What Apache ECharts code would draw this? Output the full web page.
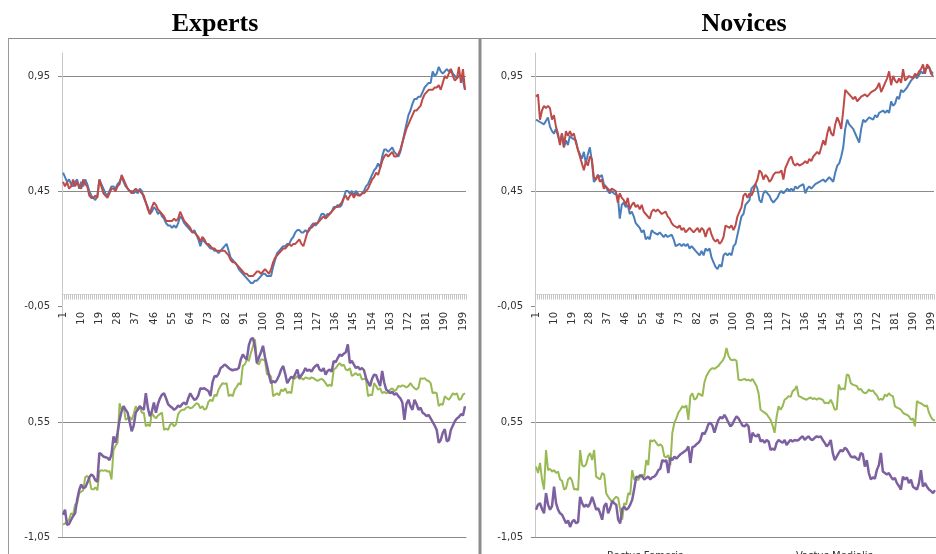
<!DOCTYPE html>
<html>
<head>
<meta charset="utf-8">
<script src="https://cdn.jsdelivr.net/npm/echarts@6/dist/echarts.min.js"></script>
<style>
  html, body { margin: 0; padding: 0; background: #ffffff; }
  #chart { width: 936px; height: 554px; }
</style>
</head>
<body>
<div id="chart"></div>
<script>
// Sample index labels 1..200
const categories = Array.from({ length: 200 }, (_, i) => String(i + 1));

// Experts, upper panel
const expertsRectusFemoris = [
  0.53,0.51,0.49,0.50,0.48,0.47,0.49,0.50,0.46,0.49,
  0.47,0.50,0.48,0.45,0.43,0.42,0.41,0.43,0.50,0.48,
  0.46,0.44,0.43,0.45,0.47,0.47,0.46,0.48,0.49,0.51,
  0.49,0.47,0.46,0.45,0.45,0.44,0.45,0.44,0.46,0.45,
  0.42,0.40,0.38,0.35,0.36,0.38,0.37,0.35,0.36,0.34,
  0.33,0.31,0.30,0.30,0.29,0.30,0.29,0.31,0.34,0.33,
  0.31,0.30,0.29,0.28,0.27,0.28,0.26,0.24,0.21,0.24,
  0.23,0.22,0.21,0.20,0.20,0.19,0.19,0.18,0.19,0.20,
  0.21,0.22,0.19,0.16,0.15,0.14,0.13,0.11,0.10,0.09,
  0.08,0.07,0.06,0.05,0.05,0.06,0.06,0.07,0.08,0.09,
  0.09,0.08,0.08,0.08,0.12,0.15,0.18,0.19,0.20,0.21,
  0.21,0.22,0.22,0.24,0.25,0.27,0.28,0.28,0.27,0.27,
  0.28,0.27,0.28,0.30,0.31,0.30,0.31,0.33,0.35,0.35,
  0.34,0.35,0.35,0.36,0.38,0.38,0.39,0.38,0.39,0.42,
  0.45,0.45,0.44,0.45,0.43,0.45,0.44,0.43,0.44,0.45,
  0.47,0.48,0.50,0.52,0.54,0.55,0.57,0.55,0.60,0.63,
  0.63,0.62,0.63,0.64,0.62,0.61,0.60,0.62,0.66,0.70,
  0.74,0.78,0.80,0.83,0.85,0.85,0.86,0.86,0.88,0.90,
  0.91,0.92,0.92,0.97,0.95,0.96,0.99,0.97,0.96,0.97,
  0.98,0.97,0.98,0.96,0.95,0.94,0.95,0.95,0.93,0.89
];
const expertsVastusMedialis = [
  0.49,0.47,0.49,0.46,0.47,0.50,0.47,0.49,0.47,0.46,
  0.50,0.48,0.47,0.43,0.42,0.42,0.43,0.42,0.50,0.47,
  0.44,0.43,0.42,0.44,0.46,0.46,0.45,0.47,0.48,0.52,
  0.50,0.48,0.46,0.45,0.44,0.45,0.46,0.45,0.45,0.44,
  0.43,0.40,0.37,0.35,0.38,0.40,0.39,0.37,0.36,0.35,
  0.34,0.32,0.32,0.32,0.32,0.33,0.32,0.33,0.36,0.34,
  0.32,0.31,0.30,0.29,0.27,0.27,0.26,0.25,0.23,0.25,
  0.24,0.22,0.22,0.21,0.20,0.20,0.19,0.19,0.19,0.19,
  0.19,0.18,0.17,0.15,0.14,0.14,0.13,0.12,0.11,0.10,
  0.09,0.09,0.08,0.08,0.08,0.09,0.10,0.10,0.09,0.10,
  0.11,0.10,0.09,0.11,0.14,0.16,0.17,0.18,0.19,0.20,
  0.20,0.21,0.22,0.21,0.22,0.22,0.23,0.24,0.22,0.21,
  0.24,0.27,0.29,0.29,0.30,0.31,0.31,0.32,0.33,0.34,
  0.33,0.34,0.35,0.36,0.37,0.38,0.38,0.39,0.40,0.42,
  0.43,0.41,0.43,0.44,0.42,0.44,0.43,0.43,0.44,0.44,
  0.45,0.46,0.48,0.50,0.51,0.53,0.52,0.55,0.58,0.60,
  0.61,0.60,0.61,0.62,0.60,0.60,0.61,0.63,0.66,0.69,
  0.72,0.74,0.76,0.78,0.80,0.80,0.81,0.82,0.85,0.87,
  0.88,0.89,0.89,0.89,0.90,0.90,0.91,0.89,0.92,0.95,
  0.94,0.96,0.98,0.95,0.93,0.94,0.99,0.92,0.98,0.89
];

// Novices, upper panel
const novicesRectusFemoris = [
  0.76,0.76,0.75,0.75,0.74,0.74,0.77,0.73,0.71,0.70,
  0.72,0.69,0.66,0.70,0.64,0.67,0.65,0.69,0.68,0.68,
  0.67,0.63,0.61,0.59,0.62,0.57,0.61,0.64,0.58,0.49,
  0.50,0.52,0.51,0.52,0.48,0.47,0.45,0.44,0.45,0.44,
  0.44,0.43,0.33,0.39,0.40,0.38,0.39,0.35,0.36,0.34,
  0.31,0.30,0.29,0.27,0.28,0.24,0.25,0.24,0.28,0.27,
  0.27,0.26,0.27,0.26,0.25,0.26,0.25,0.25,0.26,0.24,
  0.21,0.21,0.22,0.21,0.22,0.21,0.22,0.20,0.21,0.20,
  0.19,0.18,0.17,0.19,0.17,0.20,0.19,0.20,0.16,0.14,
  0.12,0.11,0.13,0.12,0.17,0.18,0.17,0.18,0.17,0.21,
  0.22,0.22,0.30,0.34,0.35,0.39,0.40,0.41,0.46,0.47,
  0.48,0.46,0.41,0.40,0.44,0.45,0.44,0.43,0.41,0.40,
  0.41,0.42,0.44,0.45,0.44,0.45,0.46,0.45,0.46,0.45,
  0.47,0.46,0.47,0.47,0.48,0.44,0.46,0.47,0.46,0.47,
  0.48,0.48,0.49,0.49,0.50,0.49,0.50,0.51,0.50,0.49,
  0.53,0.56,0.57,0.60,0.64,0.72,0.76,0.74,0.73,0.72,
  0.70,0.70,0.66,0.72,0.76,0.75,0.76,0.77,0.77,0.76,
  0.78,0.77,0.79,0.79,0.80,0.79,0.80,0.79,0.84,0.82,
  0.83,0.86,0.85,0.89,0.88,0.89,0.90,0.90,0.93,0.94,
  0.95,0.94,0.94,0.97,0.96,0.98,0.98,0.99,0.97,0.96
];
const novicesVastusMedialis = [
  0.86,0.87,0.76,0.80,0.82,0.81,0.82,0.81,0.76,0.78,
  0.73,0.70,0.65,0.70,0.64,0.71,0.69,0.71,0.69,0.70,
  0.66,0.63,0.60,0.57,0.54,0.58,0.56,0.60,0.59,0.51,
  0.50,0.52,0.49,0.50,0.46,0.47,0.46,0.45,0.46,0.46,
  0.45,0.40,0.44,0.42,0.41,0.39,0.42,0.37,0.39,0.40,
  0.38,0.39,0.37,0.39,0.36,0.35,0.34,0.33,0.36,0.37,
  0.36,0.37,0.36,0.35,0.35,0.36,0.34,0.33,0.31,0.30,
  0.30,0.29,0.30,0.28,0.29,0.27,0.28,0.29,0.28,0.27,
  0.28,0.29,0.27,0.29,0.28,0.25,0.28,0.29,0.26,0.24,
  0.23,0.24,0.22,0.23,0.25,0.30,0.30,0.29,0.30,0.28,
  0.30,0.34,0.36,0.38,0.43,0.44,0.42,0.44,0.43,0.45,
  0.48,0.50,0.54,0.53,0.50,0.52,0.51,0.49,0.50,0.52,
  0.53,0.53,0.53,0.54,0.50,0.55,0.55,0.59,0.60,0.57,
  0.56,0.57,0.56,0.56,0.57,0.58,0.57,0.59,0.58,0.60,
  0.60,0.62,0.61,0.64,0.67,0.65,0.70,0.73,0.70,0.69,
  0.74,0.77,0.75,0.72,0.80,0.89,0.88,0.87,0.86,0.85,
  0.86,0.84,0.85,0.86,0.86,0.87,0.86,0.87,0.88,0.88,
  0.89,0.90,0.92,0.88,0.90,0.92,0.94,0.97,0.91,0.95,
  0.93,0.92,0.94,0.92,0.98,0.93,0.94,0.95,0.95,0.94,
  0.96,0.95,0.97,0.98,1.00,0.96,1.00,0.99,0.96,0.95
];

// Experts, lower panel
const expertsSeries3 = [
  -0.88,-0.86,-0.84,-0.81,-0.72,-0.74,-0.60,-0.58,-0.44,-0.42,
  -0.40,-0.22,-0.20,-0.23,-0.38,-0.39,-0.36,-0.40,-0.14,-0.12,
  -0.13,-0.12,-0.14,-0.13,-0.25,0.16,0.22,0.26,0.81,0.72,
  0.77,0.58,0.60,0.62,0.58,0.66,0.77,0.72,0.76,0.68,
  0.68,0.49,0.52,0.49,0.68,0.63,0.60,0.64,0.66,0.68,
  0.44,0.46,0.44,0.51,0.53,0.49,0.52,0.66,0.70,0.72,
  0.72,0.75,0.76,0.74,0.75,0.78,0.81,0.80,0.74,0.77,
  0.72,0.74,0.83,0.86,0.84,0.93,0.91,1.00,1.05,1.09,
  1.08,1.09,0.91,0.93,0.91,1.00,1.04,1.09,1.07,1.33,
  1.35,1.42,1.40,1.51,1.60,1.70,1.37,1.35,1.42,1.42,
  1.40,1.21,1.22,1.18,0.91,0.93,0.95,0.92,1.00,0.98,
  1.02,0.95,0.97,0.95,1.14,1.16,1.19,1.15,1.16,1.14,
  1.17,1.16,1.15,1.17,1.16,1.14,1.12,1.14,1.15,1.13,
  1.09,1.05,1.07,1.05,1.28,1.30,1.34,1.37,1.33,1.35,
  1.28,1.27,1.30,1.19,1.21,1.23,1.20,1.22,1.14,1.15,
  1.14,0.91,0.93,0.92,1.09,1.05,1.00,1.02,0.95,0.97,
  0.95,0.96,1.00,1.02,0.98,1.00,1.05,1.04,1.06,1.05,
  1.03,1.05,1.09,1.05,1.02,1.00,1.03,1.16,1.15,1.16,
  1.13,1.12,1.09,0.95,0.96,0.95,0.77,0.80,0.79,0.91,
  0.88,0.86,0.90,0.95,0.93,0.95,0.86,0.87,0.93,0.95
];
const expertsSeries4 = [
  -0.74,-0.67,-0.88,-0.87,-0.81,-0.76,-0.72,-0.53,-0.40,-0.32,
  -0.37,-0.36,-0.30,-0.22,-0.18,-0.20,-0.26,-0.28,0.12,0.10,
  0.07,0.06,0.05,0.02,0.10,0.35,0.26,0.40,0.58,0.70,
  0.77,0.72,0.68,0.55,0.42,0.50,0.68,0.72,0.77,0.74,
  0.72,0.95,0.75,0.63,0.70,0.82,0.68,0.80,0.88,0.93,
  0.95,0.88,0.80,0.77,0.75,0.72,0.74,0.78,0.76,0.80,
  0.82,0.79,0.88,0.95,0.90,0.86,0.87,0.92,1.02,1.01,
  1.02,1.00,0.98,0.91,1.10,1.19,1.18,1.22,1.30,1.32,
  1.35,1.33,1.30,1.28,1.27,1.28,1.28,1.30,1.42,1.49,
  1.45,1.42,1.62,1.70,1.72,1.60,1.37,1.45,1.52,1.61,
  1.45,1.33,1.20,1.09,1.12,1.10,1.14,1.20,1.28,1.33,
  1.22,1.09,1.14,1.18,1.16,1.22,1.28,1.16,1.20,1.24,
  1.30,1.26,1.28,1.25,1.30,1.33,1.35,1.28,1.26,1.30,
  1.21,1.26,1.28,1.25,1.40,1.38,1.44,1.49,1.47,1.50,
  1.52,1.63,1.37,1.40,1.35,1.30,1.32,1.28,1.30,1.27,
  1.16,1.10,1.05,1.15,1.21,1.20,1.12,1.05,1.26,1.10,
  1.00,0.98,0.95,0.97,0.93,0.95,0.91,0.88,0.82,0.58,
  0.80,0.86,0.77,0.72,0.86,0.80,0.72,0.75,0.68,0.66,
  0.63,0.65,0.60,0.55,0.50,0.44,0.26,0.30,0.40,0.45,
  0.28,0.30,0.44,0.50,0.56,0.60,0.62,0.66,0.64,0.77
];

// Novices, lower panel
const novicesSeries3 = [
  -0.07,-0.16,-0.02,-0.25,-0.39,0.16,-0.12,-0.10,-0.14,-0.12,
  -0.16,-0.14,-0.25,-0.27,-0.39,-0.37,-0.25,-0.22,-0.27,-0.39,
  -0.38,-0.40,0.16,-0.05,-0.07,-0.04,0.07,0.12,0.02,0.16,
  -0.21,-0.23,-0.25,-0.16,-0.18,-0.44,-0.49,-0.53,-0.56,-0.52,
  -0.49,-0.51,-0.67,-0.81,-0.58,-0.60,-0.44,-0.46,-0.12,-0.25,
  -0.24,-0.26,-0.21,-0.18,-0.21,0.02,-0.05,0.30,0.28,0.30,
  0.26,0.22,0.24,0.21,0.07,0.06,0.09,-0.05,0.40,0.54,
  0.60,0.68,0.72,0.77,0.75,0.78,0.58,0.91,0.95,0.86,
  0.88,0.95,0.93,0.91,1.10,1.19,1.24,1.28,1.30,1.29,
  1.31,1.33,1.37,1.40,1.45,1.58,1.47,1.42,1.41,1.42,
  1.40,1.14,1.13,1.14,1.15,1.13,1.14,1.12,1.15,1.10,
  1.05,0.95,0.72,0.70,0.68,0.66,0.62,0.58,0.50,0.40,
  0.62,0.77,0.72,0.77,0.86,0.88,0.91,0.90,0.98,1.00,
  1.05,0.91,0.90,0.88,0.87,0.86,0.88,0.89,0.87,0.88,
  0.86,0.88,0.87,0.86,0.81,0.82,0.81,0.86,0.80,0.72,
  0.73,1.07,1.00,1.02,1.00,1.21,1.20,1.09,1.07,1.06,
  1.05,1.00,1.01,0.97,0.95,0.96,1.00,0.98,0.99,0.95,
  0.92,0.86,0.87,0.86,0.93,0.91,0.95,0.92,0.91,0.77,
  0.75,0.74,0.72,0.68,0.66,0.65,0.63,0.58,0.60,0.49,
  0.84,0.82,0.81,0.79,0.77,0.78,0.68,0.62,0.58,0.57
];
const novicesSeries4 = [
  -0.67,-0.60,-0.58,-0.66,-0.72,-0.44,-0.60,-0.67,-0.62,-0.35,
  -0.58,-0.67,-0.72,-0.74,-0.80,-0.86,-0.82,-0.91,-0.84,-0.81,
  -0.86,-0.84,-0.49,-0.58,-0.63,-0.60,-0.63,-0.58,-0.49,-0.58,
  -0.67,-0.65,-0.72,-0.81,-0.62,-0.58,-0.72,-0.65,-0.55,-0.58,
  -0.60,-0.81,-0.86,-0.66,-0.63,-0.67,-0.65,-0.60,-0.53,-0.38,
  -0.21,-0.22,-0.19,-0.21,-0.25,-0.23,-0.21,-0.25,-0.22,-0.21,
  -0.18,-0.12,-0.10,0.02,0.00,0.02,-0.16,0.05,0.02,0.07,
  0.04,0.07,0.10,0.12,0.14,0.16,0.21,-0.02,0.20,0.21,
  0.24,0.26,0.30,0.40,0.38,0.44,0.52,0.54,0.50,0.40,
  0.50,0.58,0.62,0.60,0.65,0.60,0.54,0.49,0.52,0.58,
  0.63,0.60,0.55,0.50,0.49,0.52,0.49,0.26,0.40,0.36,
  0.35,0.38,0.28,0.30,0.26,0.30,0.28,0.16,0.18,0.16,
  0.26,0.30,0.28,0.26,0.30,0.23,0.27,0.30,0.28,0.30,
  0.29,0.30,0.33,0.35,0.30,0.33,0.35,0.31,0.30,0.33,
  0.35,0.34,0.35,0.30,0.26,0.21,0.24,0.30,0.12,0.02,
  0.07,0.12,0.16,0.14,0.19,0.17,0.12,0.07,0.06,0.07,
  0.04,0.02,0.12,0.10,-0.07,0.02,-0.16,-0.25,-0.22,-0.24,
  -0.12,-0.05,0.12,-0.14,-0.16,-0.18,-0.16,-0.21,-0.25,-0.23,
  -0.30,-0.34,-0.39,-0.21,-0.25,-0.22,-0.30,-0.25,-0.35,-0.37,
  -0.39,-0.30,-0.12,-0.35,-0.30,-0.35,-0.39,-0.41,-0.44,-0.40
];

const colors = { rf: '#4a7ebb', vm: '#be4b48', s3: '#98b954', s4: '#7d60a0' };
const labelFont = 'DejaVu Sans';
const fmt = v => v.toFixed(2).replace('.', ',');

const panelX = [62, 535];

function grids() {
  const g = [];
  panelX.forEach(x => {
    g.push({ left: x, top: 53, width: 404, height: 253 });
    g.push({ left: x, top: 307, width: 404, height: 230 });
  });
  return g;
}

function xAxes() {
  const a = [];
  [0, 2].forEach(base => {
    a.push({
      type: 'category', gridIndex: base, data: categories, boundaryGap: true,
      axisLine: { onZero: true, lineStyle: { color: '#d4d4d4', width: 1 } },
      axisTick: { show: true, interval: 0, length: 5, lineStyle: { color: '#c4c4c4' } },
      axisLabel: { interval: 8, rotate: 90, margin: 6, fontSize: 10, color: '#333', fontFamily: labelFont }
    });
    a.push({
      type: 'category', gridIndex: base + 1, data: categories, boundaryGap: true,
      axisLine: { onZero: false, lineStyle: { color: '#8a8a8a', width: 1 } },
      axisTick: { show: false }, axisLabel: { show: false }
    });
  });
  return a;
}

function yAxes() {
  const a = [];
  [0, 2].forEach(base => {
    a.push({
      type: 'value', gridIndex: base, min: -0.05, max: 1.05, interval: 0.5,
      axisLine: { show: true, lineStyle: { color: '#c8c8c8' } },
      axisTick: { show: true, length: 4, lineStyle: { color: '#8a8a8a' } },
      axisLabel: { showMaxLabel: false, margin: 12, fontSize: 10, color: '#333', fontFamily: labelFont, formatter: fmt },
      splitLine: { show: true, lineStyle: { color: ['rgba(0,0,0,0)', '#8a8a8a', '#8a8a8a', 'rgba(0,0,0,0)'], width: 1 } }
    });
    a.push({
      type: 'value', gridIndex: base + 1, min: -1.05, max: 2.15, interval: 1.6,
      axisLine: { show: true, lineStyle: { color: '#c8c8c8' } },
      axisTick: { show: true, length: 4, lineStyle: { color: '#8a8a8a' } },
      axisLabel: { showMaxLabel: false, margin: 12, fontSize: 10, color: '#333', fontFamily: labelFont, formatter: fmt },
      splitLine: { show: true, lineStyle: { color: ['#8a8a8a', '#8a8a8a', 'rgba(0,0,0,0)'], width: 1 } }
    });
  });
  return a;
}

function line(name, data, idx, color, width) {
  return {
    name, type: 'line', data, xAxisIndex: idx, yAxisIndex: idx,
    showSymbol: false, symbol: 'none', smooth: false,
    itemStyle: { color }, lineStyle: { color, width },
    emphasis: { disabled: true }
  };
}

const series = [
  line('Rectus Femoris', expertsRectusFemoris, 0, colors.rf, 2),
  line('Vastus Medialis', expertsVastusMedialis, 0, colors.vm, 2),
  line('Series3', expertsSeries3, 1, colors.s3, 2),
  line('Series4', expertsSeries4, 1, colors.s4, 2.5),
  line('Rectus Femoris', novicesRectusFemoris, 2, colors.rf, 2),
  line('Vastus Medialis', novicesVastusMedialis, 2, colors.vm, 2),
  line('Series3', novicesSeries3, 3, colors.s3, 2),
  line('Series4', novicesSeries4, 3, colors.s4, 2.5)
];

const legendBase = {
  top: 545, icon: 'rect', itemWidth: 27, itemHeight: 4, itemGap: 2, selectedMode: false,
  textStyle: { fontSize: 10, color: '#333', fontFamily: labelFont, lineHeight: 12 }
};

const titleFont = 'bold 26px "Liberation Serif", "Times New Roman", serif';

const chart = echarts.init(document.getElementById('chart'), null, { renderer: 'canvas' });
chart.setOption({
  animation: false,
  backgroundColor: '#ffffff',
  grid: grids(),
  xAxis: xAxes(),
  yAxis: yAxes(),
  series,
  legend: [
    Object.assign({}, legendBase, { left: 570, data: ['Rectus Femoris'] }),
    Object.assign({}, legendBase, { left: 759, data: ['Vastus Medialis'] })
  ],
  graphic: [
    { type: 'line', shape: { x1: 8, y1: 38.5, x2: 936, y2: 38.5 }, style: { stroke: '#8c8c8c', lineWidth: 1 }, z: 10 },
    { type: 'line', shape: { x1: 8.5, y1: 38, x2: 8.5, y2: 554 }, style: { stroke: '#9a9a9a', lineWidth: 1 }, z: 10 },
    { type: 'line', shape: { x1: 480, y1: 38, x2: 480, y2: 554 }, style: { stroke: '#8c8c8c', lineWidth: 3 }, z: 10 },
    { type: 'text', x: 215, y: 24, style: { text: 'Experts', font: titleFont, fill: '#000', align: 'center', verticalAlign: 'middle' } },
    { type: 'text', x: 744, y: 24, style: { text: 'Novices', font: titleFont, fill: '#000', align: 'center', verticalAlign: 'middle' } }
  ]
});
</script>
</body>
</html>
